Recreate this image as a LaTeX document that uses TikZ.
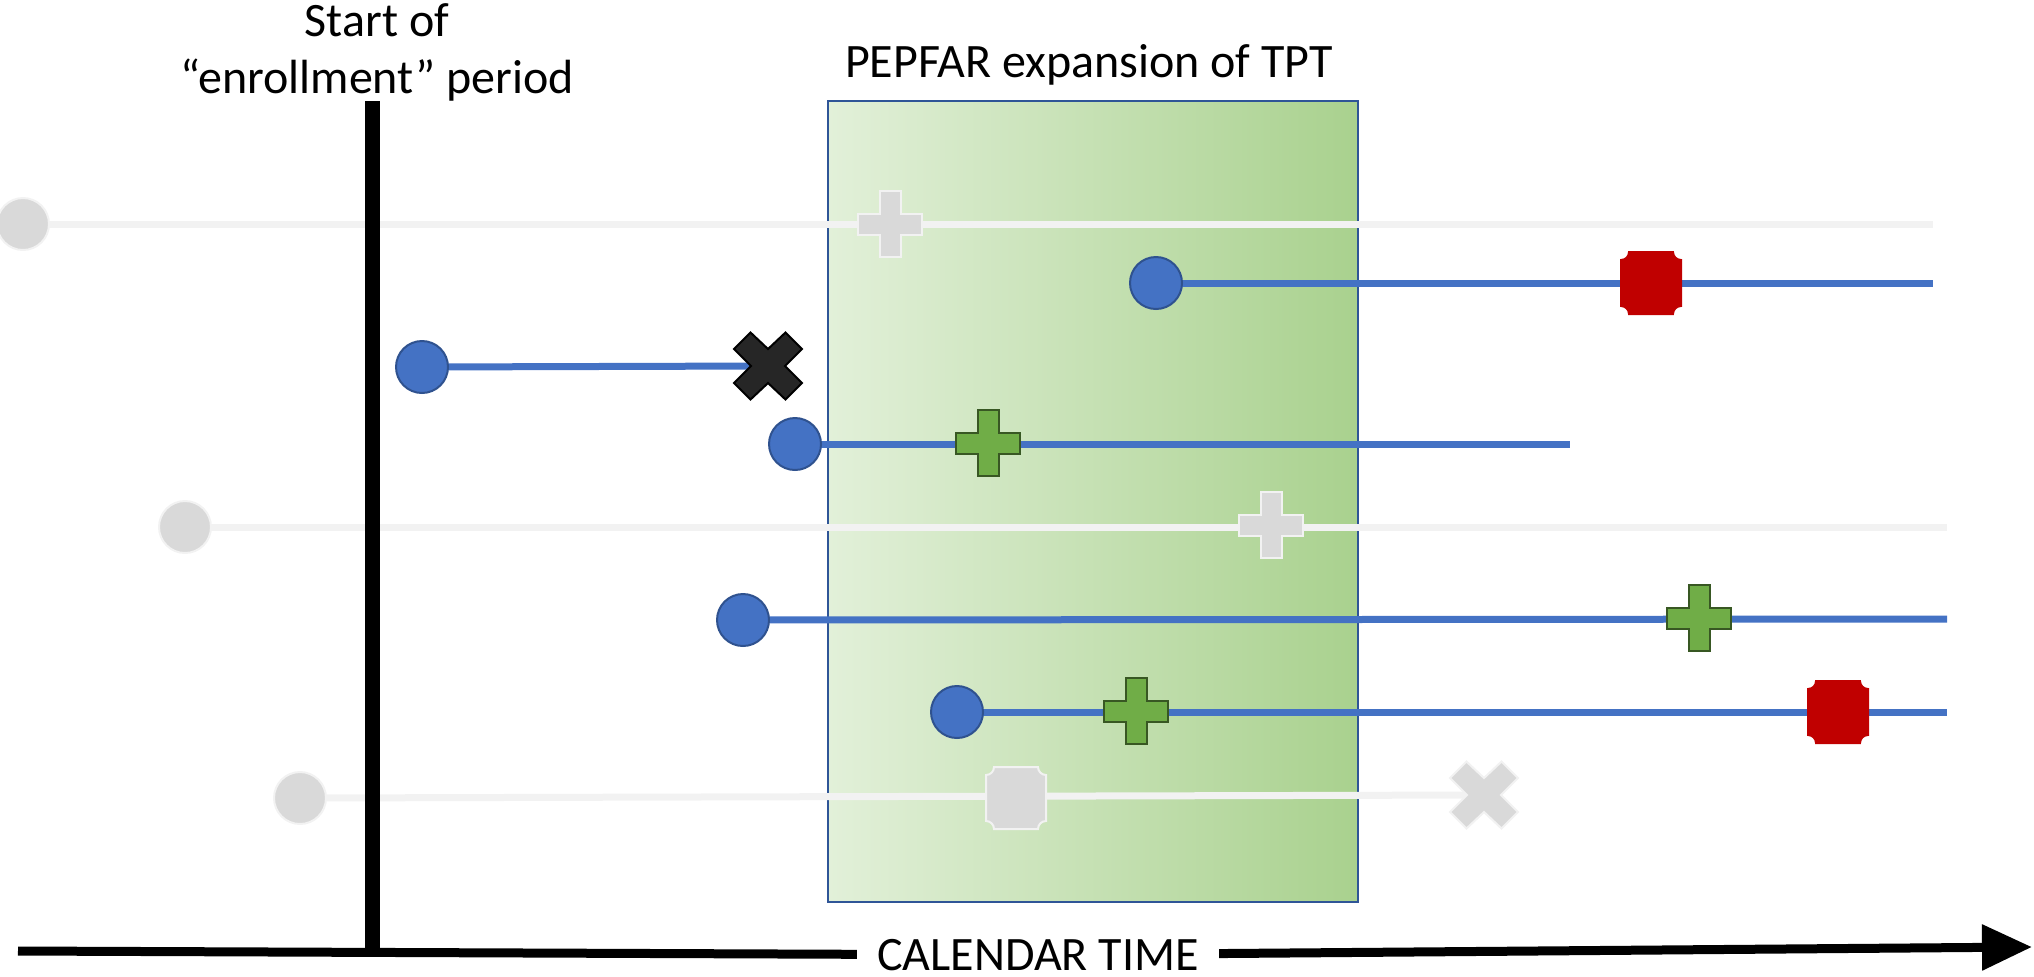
\documentclass[tikz,border=0pt]{standalone}
\usepackage{fontspec}
\setmainfont{Carlito}
\usetikzlibrary{arrows.meta,backgrounds}

\definecolor{dotblue}{HTML}{4472C4}
\definecolor{dotedge}{HTML}{2F528F}
\definecolor{fadegray}{HTML}{D9D9D9}
\definecolor{fadeline}{HTML}{F2F2F2}
\definecolor{plusgreen}{HTML}{70AD47}
\definecolor{plusedge}{HTML}{385723}
\definecolor{stopred}{HTML}{C00000}
\definecolor{crossblack}{HTML}{262626}
\definecolor{boxlight}{HTML}{E2F0D9}
\definecolor{boxdark}{HTML}{A9D18E}
\definecolor{boxedge}{HTML}{2F5597}

\tikzset{
  labeltext/.style={font=\fontsize{24}{28.5}\selectfont, inner sep=0pt},
  markerbox/.style={shape=rectangle, inner sep=0pt, minimum width=40pt, minimum height=40pt},
  dot/.style={circle, inner sep=0pt, minimum size=26pt, line width=1pt, fill=dotblue, draw=dotedge},
  fadedot/.style={dot, fill=fadegray, draw=fadeline},
  plusmark/.style 2 args={markerbox, path picture={
    \filldraw[fill=#1, draw=#2, line width=1pt, shift={(path picture bounding box.center)}]
      (-5.25pt,16.5pt) -- (5.25pt,16.5pt) -- (5.25pt,5.25pt) -- (16pt,5.25pt) -- (16pt,-5.25pt)
      -- (5.25pt,-5.25pt) -- (5.25pt,-16.5pt) -- (-5.25pt,-16.5pt) -- (-5.25pt,-5.25pt)
      -- (-16pt,-5.25pt) -- (-16pt,5.25pt) -- (-5.25pt,5.25pt) -- cycle;}},
  greenplus/.style={plusmark={plusgreen}{plusedge}},
  fadeplus/.style={plusmark={fadegray}{fadeline}},
  stopmark/.style 2 args={markerbox, path picture={
    \filldraw[fill=#1, draw=#2, line width=1pt, shift={(path picture bounding box.center)}]
      (-11pt,15.5pt) -- (11pt,15.5pt) arc[start angle=180, end angle=270, radius=4pt]
      -- (15pt,-11.5pt) arc[start angle=90, end angle=180, radius=4pt]
      -- (-11pt,-15.5pt) arc[start angle=0, end angle=90, radius=4pt]
      -- (-15pt,11.5pt) arc[start angle=270, end angle=360, radius=4pt] -- cycle;}},
  redstop/.style={stopmark={stopred}{stopred}},
  fadestop/.style={stopmark={fadegray}{fadeline}},
  crossmark/.style 2 args={markerbox, path picture={
    \filldraw[fill=#1, draw=#2, line width=1pt, shift={(path picture bounding box.center)}]
      (0pt,8.5pt) -- (8.75pt,16.75pt) -- (17pt,8.5pt) -- (8.5pt,0pt) -- (17pt,-8.5pt)
      -- (8.75pt,-16.75pt) -- (0pt,-8.5pt) -- (-8.75pt,-16.75pt) -- (-17pt,-8.5pt)
      -- (-8.5pt,0pt) -- (-17pt,8.5pt) -- (-8.75pt,16.75pt) -- cycle;}},
  blackcross/.style={crossmark={crossblack}{black}},
  fadecross/.style={crossmark={fadegray}{fadeline}},
  blueline/.style={line width=3.5pt, draw=dotblue},
  grayline/.style={line width=3.5pt, draw=fadeline},
  enrolbar/.style={line width=7.5pt, draw=black},
  axisline/.style={line width=4.5pt, draw=black},
  pepfarbox/.style={rectangle, inner sep=0pt, minimum width=265pt, minimum height=400.5pt,
    left color=boxlight, right color=boxdark, draw=boxedge, line width=1pt}
}

\begin{document}
\begin{tikzpicture}[x=0.5pt,y=-0.5pt]
\useasboundingbox (0,0) rectangle (2034,976);

% labels
\node[labeltext, align=center, anchor=north] (startlbl) at (377,3) {Start of\\“enrollment” period};
\node[labeltext, anchor=base] (tptlbl) at (1089,77) {PEPFAR expansion of TPT};

% enrollment bar
\coordinate (bartop) at (372,101);
\coordinate (barfoot) at (372,953);
\draw[enrolbar] (bartop) -- (barfoot);

% time axis
\coordinate (axstart) at (18,951);
\coordinate (axend) at (2032,947);
\node[labeltext, inner xsep=10pt] (caltime) at (1038,955) {CALENDAR TIME};
\draw[axisline] (axstart) -- (caltime);
\draw[axisline, -{Triangle[length=25pt, width=22pt]}] (caltime) -- (axend);

% entries
\node[fadedot] (g1) at (23,224) {};
\node[fadeplus] (g1tpt) at (890,224) {};
\coordinate (g1end) at (1933,224);

\node[dot] (b2) at (1156,283) {};
\node[redstop] (b2tb) at (1651,283) {};
\coordinate (b2end) at (1933,283);

\node[dot] (b3) at (422,367) {};
\node[blackcross] (b3out) at (768,366) {};

\node[dot] (b4) at (795,444) {};
\node[greenplus] (b4tpt) at (988,443) {};
\coordinate (b4end) at (1570,444);

\node[fadedot] (g5) at (185,527) {};
\node[fadeplus] (g5tpt) at (1271,525) {};
\coordinate (g5end) at (1947,527);

\node[dot] (b6) at (743,620) {};
\node[greenplus] (b6tpt) at (1699,618) {};
\coordinate (b6end) at (1947,619);

\node[dot] (b7) at (957,712) {};
\node[greenplus] (b7tpt) at (1136,711) {};
\node[redstop] (b7tb) at (1838,712) {};
\coordinate (b7end) at (1947,712);

\node[fadedot] (g8) at (300,798) {};
\node[fadestop] (g8tb) at (1016,798) {};
\node[fadecross] (g8out) at (1484,795) {};

\begin{scope}[on background layer]
\node[pepfarbox] (tptbox) at (1093,501.5) {};
\draw[grayline] (g1.center) -- (g1end);
\draw[blueline] (b2.center) -- (b2end);
\draw[blueline] (b3.center) -- (b3out.center);
\draw[blueline] (b4.center) -- (b4end);
\draw[grayline] (g5.center) -- (g5end);
\draw[blueline] (b6.center) -- (b6end);
\draw[blueline] (b7.center) -- (b7end);
\draw[grayline] (g8.center) -- (g8out.center);
\end{scope}
\end{tikzpicture}
\end{document}
